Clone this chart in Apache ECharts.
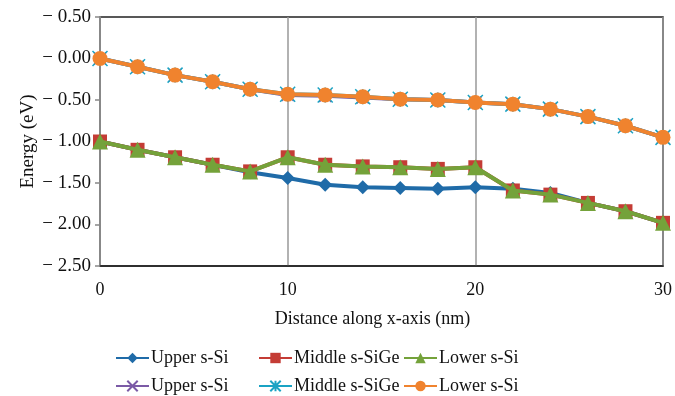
<!DOCTYPE html>
<html>
<head>
<meta charset="utf-8">
<script src="https://cdn.jsdelivr.net/npm/echarts@6/dist/echarts.min.js"></script>
<style>
  html, body { margin: 0; padding: 0; background: #fff; }
  #chart { width: 675px; height: 396px; }
</style>
</head>
<body>
<div id="chart"></div>
<script>
// Distance along the x-axis (nm)
const distance = [0, 2, 4, 6, 8, 10, 12, 14, 16, 18, 20, 22, 24, 26, 28, 30];

// Lower band group
const upperSiA   = [-1.00, -1.10, -1.19, -1.28, -1.37, -1.44, -1.52, -1.55, -1.56, -1.57, -1.55, -1.57, -1.62, -1.74, -1.84, -1.98];
const middleSiGeA = [-1.00, -1.10, -1.19, -1.28, -1.36, -1.19, -1.28, -1.30, -1.31, -1.33, -1.31, -1.59, -1.64, -1.74, -1.84, -1.98];
const lowerSiA   = [-1.00, -1.10, -1.19, -1.28, -1.36, -1.19, -1.28, -1.30, -1.31, -1.33, -1.31, -1.59, -1.64, -1.74, -1.84, -1.98];

// Upper band group
const upperSiB    = [0.00, -0.10, -0.20, -0.28, -0.37, -0.44, -0.45, -0.47, -0.49, -0.50, -0.53, -0.55, -0.61, -0.70, -0.81, -0.95];
const middleSiGeB = [0.00, -0.10, -0.20, -0.28, -0.37, -0.43, -0.44, -0.46, -0.49, -0.50, -0.53, -0.55, -0.61, -0.70, -0.81, -0.95];
const lowerSiB    = [0.00, -0.10, -0.20, -0.28, -0.37, -0.43, -0.44, -0.46, -0.49, -0.50, -0.53, -0.55, -0.61, -0.70, -0.81, -0.95];

// Axis ranges and ticks
const yTicks = [0.5, 0.0, -0.5, -1.0, -1.5, -2.0, -2.5];
const xTicks = [0, 10, 20, 30];

// Legend labels (second row repeats names; trailing space keeps series distinct)
const seriesNames = ['Upper s-Si', 'Middle s-SiGe', 'Lower s-Si', 'Upper s-Si ', 'Middle s-SiGe ', 'Lower s-Si '];

const FONT = '"Liberation Serif", "Times New Roman", serif';

const pairs = (ys) => distance.map((x, i) => [x, ys[i]]);

const styles = [
  { color: '#1F6BA8', symbol: 'diamond', size: 14, data: upperSiA },
  { color: '#C43C35', symbol: 'rect', size: 14, data: middleSiGeA },
  { color: '#74A23A', symbol: 'triangle', size: 16, data: lowerSiA },
  { color: '#7B5AA6', symbol: 'path://M0,0L10,10M10,0L0,10', size: 12, data: upperSiB },
  { color: '#1AA3C4', symbol: 'path://M0,0L10,10M10,0L0,10M5,0L5,10', size: 15, data: middleSiGeB },
  { color: '#F0832E', symbol: 'circle', size: 15, data: lowerSiB }
];

const series = styles.map((s, i) => ({
  name: seriesNames[i],
  type: 'line',
  data: pairs(s.data),
  symbol: s.symbol,
  symbolSize: s.size,
  showSymbol: true,
  lineStyle: { color: s.color, width: 4 },
  itemStyle: (s.symbol.indexOf('path://') === 0)
    ? { color: s.color, borderColor: s.color, borderWidth: 1.5 }
    : { color: s.color, borderWidth: 0 },
  z: 2 + i,
  animation: false
}));

// Legend item positions: three columns, two rows
const legendCols = [115, 258, 403];
const legendRows = [349, 377];
const legends = seriesNames.map((n, i) => ({
  data: [n],
  left: legendCols[i % 3],
  top: legendRows[Math.floor(i / 3)],
  padding: 0,
  itemWidth: 33,
  itemHeight: 13,
  itemGap: 0,
  formatter: (name) => name.trim(),
  textStyle: { fontFamily: FONT, fontSize: 18, color: '#111', padding: [0, 0, 0, -3] },
  selectedMode: false
}));

const chart = echarts.init(document.getElementById('chart'), null, { renderer: 'canvas' });
chart.setOption({
  backgroundColor: '#fff',
  animation: false,
  legend: legends,
  grid: {
    left: 100, right: 8, top: 17, bottom: 130,
    show: true, borderColor: '#222', borderWidth: 1.5, backgroundColor: 'transparent'
  },
  xAxis: {
    type: 'value',
    min: xTicks[0], max: xTicks[xTicks.length - 1], interval: 10,
    name: 'Distance along x-axis (nm)',
    nameLocation: 'middle',
    nameGap: 44,
    nameMoveOverlap: false,
    nameTextStyle: { fontFamily: FONT, fontSize: 18, color: '#111', padding: [0, 18, 0, 0] },
    axisLine: { show: true, onZero: false, lineStyle: { color: '#222', width: 1.5 } },
    axisTick: { show: false },
    axisLabel: { fontFamily: FONT, fontSize: 18, color: '#111', margin: 15 },
    splitLine: { show: true, lineStyle: { color: '#999', width: 1.5 } }
  },
  yAxis: {
    type: 'value',
    min: yTicks[yTicks.length - 1], max: yTicks[0], interval: 0.5,
    name: 'Energy (eV)',
    nameLocation: 'middle',
    nameRotate: 90,
    nameGap: 62,
    nameMoveOverlap: false,
    nameTextStyle: { fontFamily: FONT, fontSize: 19, color: '#111' },
    axisLine: { show: true, onZero: false, lineStyle: { color: '#888', width: 2 } },
    axisTick: { show: true, length: 5, lineStyle: { color: '#888', width: 1.5 } },
    axisLabel: {
      fontFamily: FONT, fontSize: 19, color: '#111', margin: 9,
      formatter: (v) => '\u2212 ' + Math.abs(v).toFixed(2)
    },
    splitLine: { show: false }
  },
  series: series
});
</script>
</body>
</html>
